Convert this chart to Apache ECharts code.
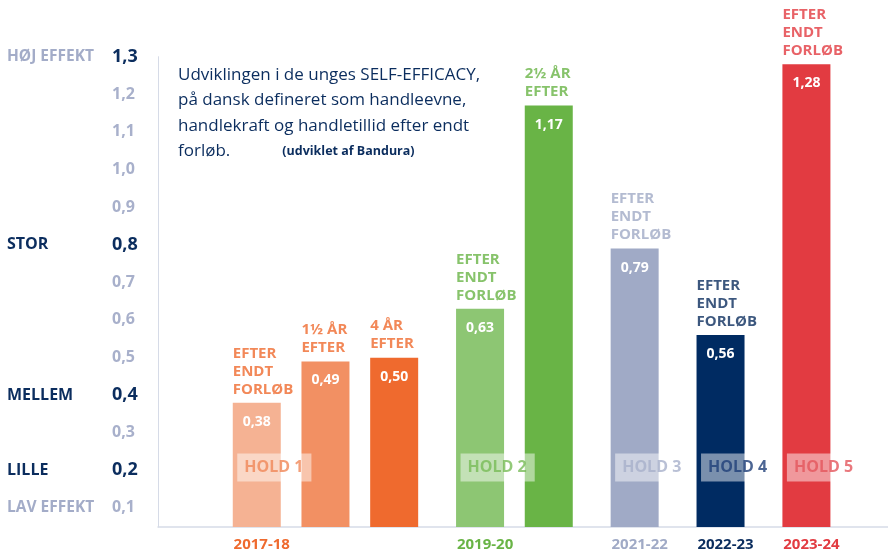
<!DOCTYPE html>
<html>
<head>
<meta charset="utf-8">
<script src="https://cdn.jsdelivr.net/npm/echarts@6/dist/echarts.min.js"></script>
<style>
  html, body { margin: 0; padding: 0; background: #fff; }
  #chart { width: 888px; height: 552px; }
</style>
</head>
<body>
<div id="chart"></div>
<script>
// data
const holdNames = ['HOLD 1', 'HOLD 2', 'HOLD 3', 'HOLD 4', 'HOLD 5'];
const holdYears = ['2017-18', '2019-20', '2021-22', '2022-23', '2023-24'];
const barHold = [0, 0, 0, 1, 1, 2, 3, 4];
const barValues = [0.38, 0.49, 0.50, 0.63, 1.17, 0.79, 0.56, 1.28];
const barNotes = [
  'EFTER\nENDT\nFORLØB', '1½ ÅR\nEFTER', '4 ÅR\nEFTER',
  'EFTER\nENDT\nFORLØB', '2½ ÅR\nEFTER',
  'EFTER\nENDT\nFORLØB', 'EFTER\nENDT\nFORLØB', 'EFTER\nENDT\nFORLØB'
];
const effectTicks = [1.3, 0.8, 0.4, 0.2, 0.1];
const effectNames = ['HØJ EFFEKT', 'STOR', 'MELLEM', 'LILLE', 'LAV EFFEKT'];
const strongTicks = [1.3, 0.8, 0.4, 0.2];
const HOLD_LEVEL = 0.2;

// styles
const FONT = "'Open Sans', 'Noto Sans', sans-serif";
const NAVY = '#0b2d5e';
const PALE = '#a3acc8';
const AXIS = '#d6dbe7';
const barColors = ['#f5b293', '#f29063', '#ef6a2e', '#8dc673', '#69b446', '#a0aac6', '#002b62', '#e23b41'];
const holdColors = ['#ef6a2e', '#69b446', '#a0aac6', '#0b2d5e', '#e23b41'];
const holdTextColors = ['#f08758', '#78bb57', '#a8b0cb', '#1f3f78', '#e4565c'];

// slot layout of the category axis (gaps between bars)
const LEAD = 11, IN_GAP = 8, GROUP_GAP = 10, SLOTS = 85;
const slots = [];
let s = LEAD;
barValues.forEach((v, i) => {
  if (i > 0) s += barHold[i] === barHold[i - 1] ? IN_GAP : GROUP_GAP;
  slots.push(s);
});
const categories = [];
for (let i = 0; i < SLOTS; i++) categories.push(String(i));
const yearAtSlot = {};
holdYears.forEach((y, g) => { yearAtSlot[slots[barHold.indexOf(g)]] = g; });

const comma = (v, d) => v.toFixed(d).replace('.', ',');
const tickKey = v => Math.round(v * 10);

const barData = categories.map(() => '-');
barValues.forEach((v, i) => {
  barData[slots[i]] = { value: v, itemStyle: { color: barColors[i] } };
});

const yearRich = {};
holdColors.forEach((c, g) => {
  yearRich['y' + g] = { color: c, fontSize: 15, fontWeight: 'bold', fontFamily: FONT, padding: [0, 0, 0, 10] };
});

const chart = echarts.init(document.getElementById('chart'));
chart.setOption({
  animation: false,
  title: {
    left: 173,
    top: 57,
    text: 'Udviklingen i de unges SELF-EFFICACY,\npå dansk defineret som handleevne,\nhandlekraft og handletillid efter endt\nforløb.{s|(udviklet af Bandura)}',
    textStyle: {
      fontFamily: FONT, fontSize: 17, fontWeight: 'normal', color: NAVY, lineHeight: 25.6,
      rich: {
        s: { fontFamily: FONT, fontSize: 12.5, fontWeight: 'bold', color: NAVY, lineHeight: 25.6, padding: [0, 0, 0, 52] }
      }
    }
  },
  grid: [
    { left: 158, right: 0, top: 56.7, bottom: 6.5 },
    { left: 158, right: 0, top: 56.7, bottom: 25 }
  ],
  xAxis: [
    { gridIndex: 0, type: 'value', show: false },
    {
      gridIndex: 1,
      type: 'category',
      data: categories,
      axisLine: { lineStyle: { color: AXIS, width: 1.5 } },
      axisTick: { show: false },
      axisLabel: {
        interval: 0,
        margin: 10,
        formatter: (v, i) => (yearAtSlot[i] === undefined ? '' : '{y' + yearAtSlot[i] + '|' + holdYears[yearAtSlot[i]] + '}'),
        rich: yearRich
      }
    }
  ],
  yAxis: [
    {
      gridIndex: 0, type: 'value', position: 'left', min: 0, max: 1.3, interval: 0.1,
      axisLine: { show: false }, axisTick: { show: false }, splitLine: { show: false },
      axisLabel: {
        align: 'left', margin: 151,
        formatter: v => {
          const k = effectTicks.findIndex(t => tickKey(t) === tickKey(v));
          if (k < 0) return '';
          const strong = ['STOR', 'MELLEM', 'LILLE'].indexOf(effectNames[k]) >= 0;
          return '{' + (strong ? 'a' : 'b') + '|' + effectNames[k] + '}';
        },
        rich: {
          a: { color: NAVY, fontSize: 16, fontWeight: 'bold', fontFamily: FONT },
          b: { color: PALE, fontSize: 15.5, fontWeight: 'bold', fontFamily: FONT }
        }
      }
    },
    {
      gridIndex: 0, type: 'value', position: 'left', min: 0, max: 1.3, interval: 0.1,
      axisLine: { show: false }, axisTick: { show: false }, splitLine: { show: false },
      axisLabel: {
        align: 'left', margin: 46,
        formatter: v => {
          if (tickKey(v) === 0) return '';
          const strong = strongTicks.some(t => tickKey(t) === tickKey(v));
          return '{' + (strong ? 'a' : 'b') + '|' + comma(v, 1) + '}';
        },
        rich: {
          a: { color: NAVY, fontSize: 18, fontWeight: 'bold', fontFamily: FONT },
          b: { color: '#a8b0cb', fontSize: 16, fontWeight: 'bold', fontFamily: FONT }
        }
      }
    },
    {
      gridIndex: 1, type: 'value', min: 0.05, max: 1.3,
      axisLine: { show: true, lineStyle: { color: AXIS, width: 1 } },
      axisTick: { show: false }, splitLine: { show: false }, axisLabel: { show: false }
    }
  ],
  series: [
    {
      type: 'bar',
      xAxisIndex: 1, yAxisIndex: 2,
      barWidth: 48,
      data: barData,
      label: {
        show: true, position: 'insideTop', distance: 12,
        color: '#fff', fontSize: 14, fontWeight: 'bold', fontFamily: FONT,
        formatter: p => comma(p.value, 2)
      }
    },
    {
      type: 'scatter',
      xAxisIndex: 1, yAxisIndex: 2,
      symbolSize: 1,
      itemStyle: { color: 'transparent' },
      z: 3,
      data: barValues.map((v, i) => ({
        value: [slots[i], v],
        label: { color: holdColors[barHold[i]], formatter: barNotes[i] }
      })),
      label: {
        show: true, position: 'top', distance: 4, align: 'left', offset: [-24, 0],
        fontSize: 15, fontWeight: 'bold', fontFamily: FONT, lineHeight: 18
      }
    },
    {
      type: 'scatter',
      xAxisIndex: 1, yAxisIndex: 2,
      symbolSize: 1,
      itemStyle: { color: 'transparent' },
      z: 4,
      data: holdNames.map((h, g) => ({
        value: [slots[barHold.indexOf(g)], HOLD_LEVEL],
        label: { color: holdTextColors[g], formatter: h }
      })),
      label: {
        show: true, position: 'right', distance: 0, offset: [-20, -3],
        fontSize: 16, fontWeight: 'bold', fontFamily: FONT, lineHeight: 18,
        backgroundColor: 'rgba(255,255,255,0.6)', padding: [5, 8, 5, 7]
      }
    }
  ]
});
</script>
</body>
</html>
